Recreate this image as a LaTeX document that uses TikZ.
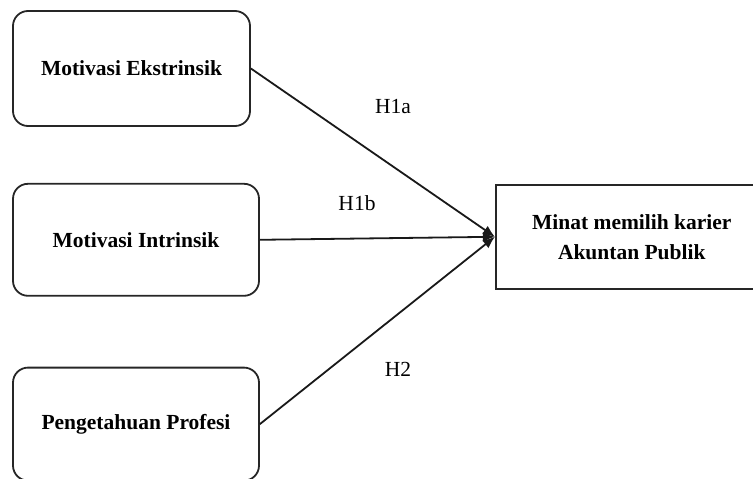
\documentclass[tikz,border=0pt]{standalone}
\usepackage{fontspec}
\setmainfont{Liberation Serif}
\usepackage{tikz}
\usetikzlibrary{positioning,arrows.meta}

\begin{document}
\begin{tikzpicture}[x=1pt, y=-1pt,
    varbox/.style={rectangle, rounded corners=15pt, draw=black!85, line width=1.8pt, minimum width=246pt, minimum height=112pt, inner sep=0pt, font=\fontsize{21.5}{30}\selectfont\bfseries},
    hyp/.style={font=\fontsize{21.5}{26}\selectfont},
    link/.style={-{Latex[length=12pt,width=10pt]}, line width=1.8pt, black!90}]
    \useasboundingbox (0,0) rectangle (753,479);

    % Independent variables - left column
    \node [varbox, minimum width=237pt, minimum height=115pt] (ekstrinsik) at (131.5,68.5) {Motivasi Ekstrinsik};
    \node [varbox, below=56pt of ekstrinsik, xshift=4.5pt] (intrinsik) {Motivasi Intrinsik};
    \node [varbox, minimum height=113pt, below=70pt of intrinsik] (profesi) {Pengetahuan Profesi};

    % Dependent variable - right
    \node [rectangle, draw=black!85, line width=1.8pt, minimum width=272pt, minimum height=104pt, inner sep=0pt, align=center, font=\fontsize{21.5}{30}\selectfont\bfseries, right=235pt of intrinsik, yshift=3pt] (minat) {Minat memilih karier\\Akuntan Publik};

    % Hypotheses
    \draw [link] (ekstrinsik.east) -- (minat.west);
    \draw [link] (intrinsik.east) -- (minat.west);
    \draw [link] (profesi.east) -- (minat.west);
    \node [hyp] (h1a) at (393,107) {H1a};
    \node [hyp] (h1b) at (357,203) {H1b};
    \node [hyp] (h2) at (398,369) {H2};

\end{tikzpicture}
\end{document}
